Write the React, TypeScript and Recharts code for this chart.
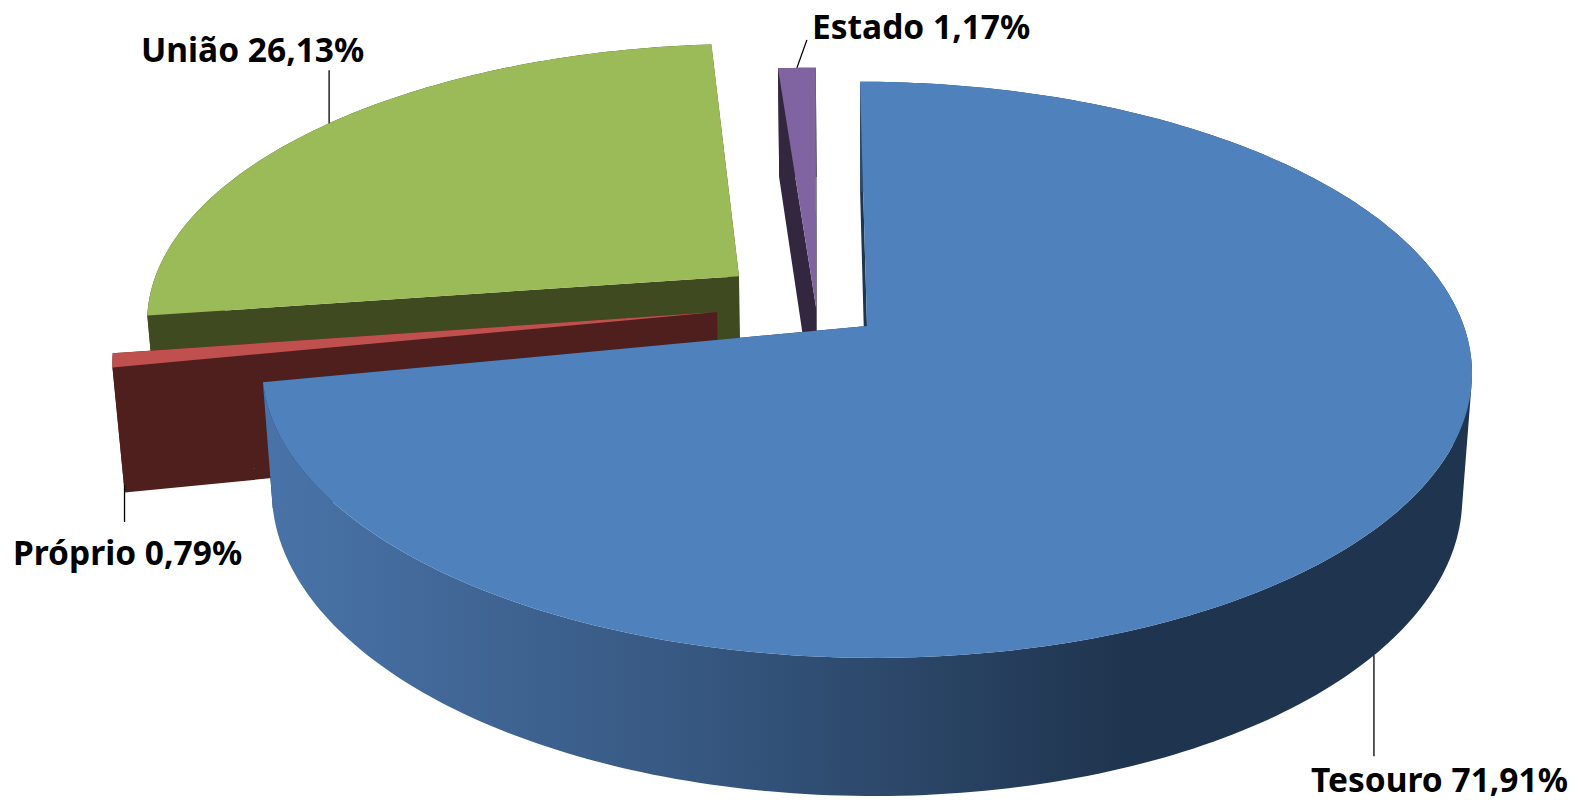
import React from "react";
import { PieChart, Pie } from "recharts";

const sliceNames = ["Estado", "União", "Próprio", "Tesouro"];
const sliceValues = [1.17, 26.13, 0.79, 71.91];
const sliceLabels = ["Estado 1,17%", "União 26,13%", "Próprio 0,79%", "Tesouro 71,91%"];

const chartData = sliceNames.map((name, i) => ({ name, value: sliceValues[i], label: sliceLabels[i] }));

// Perspective of the 3D pie (fractions of the radius)
const TILT = 0.4706;
const DEPTH = 0.2085;
const PERSP = 0.152;
const DEPTH_PERSP = 0.016;
const ROLL = 0.006;

type Look = {
  top: string; wall: string; ou: number; ov: number;
  level: number; lineDx: number; lineDy: number; textX: number; textY: number; anchor: string;
};
const looks: Record<string, Look> = {
  Tesouro: { top: "#4F81BD", wall: "url(#tesouroWall)", ou: 0, ov: 0, level: 1, lineDx: 0, lineDy: 101, textX: 1311, textY: 792, anchor: "start" },
  Próprio: { top: "#C0504D", wall: "#4F1F1E", ou: -0.2526, ov: -0.0465, level: 1, lineDx: 0, lineDy: 37, textX: 13, textY: 565, anchor: "start" },
  União: { top: "#9BBB59", wall: "#3F4A20", ou: -0.2199, ov: -0.1789, level: 0, lineDx: 0, lineDy: -53, textX: 141, textY: 62, anchor: "start" },
  Estado: { top: "#8064A2", wall: "#33273F", ou: -0.086, ov: -0.065, level: 0, lineDx: 10, lineDy: -28, textX: 812, textY: 39, anchor: "start" },
};

function project(cx: number, cy: number, R: number, u: number, v: number, h: number): [number, number] {
  const w = 1 - PERSP * v + DEPTH_PERSP * h;
  const dx = (R * u) / w;
  return [cx + dx, cy + (R * (TILT * v + DEPTH * h)) / w + ROLL * dx];
}

function rimAt(look: Look, mathDeg: number): [number, number] {
  const a = (mathDeg * Math.PI) / 180;
  return [look.ou + Math.cos(a), look.ov - Math.sin(a)];
}

function quad(pts: [number, number][]): string {
  let area = 0;
  pts.forEach((p, i) => {
    const q = pts[(i + 1) % pts.length];
    area += p[0] * q[1] - q[0] * p[1];
  });
  const ordered = area < 0 ? [...pts].reverse() : pts;
  return "M" + ordered.map((p) => `${p[0].toFixed(2)},${p[1].toFixed(2)}`).join("L") + "Z";
}

function SliceShape(props: any) {
  const { cx, cy, outerRadius: R, startAngle, endAngle, name } = props;
  const look = looks[name];
  const P = (u: number, v: number, h: number) => project(cx, cy, R, u, v, h);
  const steps = Math.max(4, Math.ceil(Math.abs(endAngle - startAngle)));
  const rim: [number, number][] = [];
  for (let i = 0; i <= steps; i++) rim.push(rimAt(look, startAngle + ((endAngle - startAngle) * i) / steps));

  const apexTop = P(look.ou, look.ov, 0);
  const apexBot = P(look.ou, look.ov, 1);
  const topPts = [apexTop, ...rim.map(([u, v]) => P(u, v, 0))];
  const topPath = "M" + topPts.map((p) => `${p[0].toFixed(2)},${p[1].toFixed(2)}`).join("L") + "Z";

  let wallPath = "";
  for (let i = 0; i < steps; i++) {
    const [a, b] = [rim[i], rim[i + 1]];
    wallPath += quad([P(a[0], a[1], 0), P(b[0], b[1], 0), P(b[0], b[1], 1), P(a[0], a[1], 1)]);
  }
  const first = rim[0];
  const last = rim[steps];
  const radial =
    quad([apexTop, P(first[0], first[1], 0), P(first[0], first[1], 1), apexBot]) +
    quad([apexTop, P(last[0], last[1], 0), P(last[0], last[1], 1), apexBot]);
  const isGradient = look.wall.startsWith("url");

  return (
    <g>
      {isGradient && (
        <defs>
          <linearGradient id="tesouroWall" gradientUnits="userSpaceOnUse" x1={270} y1={0} x2={1130} y2={0}>
            <stop offset="0" stopColor="#4973A8" />
            <stop offset="0.5" stopColor="#365780" />
            <stop offset="1" stopColor="#1F344E" />
          </linearGradient>
        </defs>
      )}
      <path d={radial} fill={isGradient ? "#1F344E" : look.wall} />
      <path d={wallPath} fill={look.wall} />
      <path d={topPath} fill={look.top} />
    </g>
  );
}

function SliceLabel(props: any) {
  const { cx, cy, outerRadius: R, midAngle, name, label, payload } = props;
  const look = looks[name ?? payload?.name];
  const [u, v] = rimAt(look, midAngle);
  const [x, y] = project(cx, cy, R, u, v, look.level);
  return (
    <g>
      <line x1={x} y1={y} x2={x + look.lineDx} y2={y + look.lineDy} stroke="#000" strokeWidth={1.3} />
      <text
        x={look.textX}
        y={look.textY}
        textAnchor={look.anchor as any}
        fontFamily="'Noto Sans', sans-serif"
        fontWeight={700}
        fontSize={33.5}
        fill="#000"
      >
        {label ?? payload?.label}
      </text>
    </g>
  );
}

export default function App() {
  return (
    <div style={{ position: "absolute", left: 0, top: 0, width: 1576, height: 802, background: "#fff" }}>
      <PieChart width={1576} height={802} margin={{ top: 0, right: 0, bottom: 0, left: 0 }}>
        <Pie
          data={chartData}
          dataKey="value"
          nameKey="name"
          cx={867}
          cy={326}
          innerRadius={0}
          outerRadius={598}
          startAngle={90.77}
          endAngle={450.77}
          stroke="none"
          isAnimationActive={false}
          rootTabIndex={-1}
          shape={SliceShape}
          inactiveShape={SliceShape}
          label={SliceLabel}
          labelLine={false}
        />
      </PieChart>
    </div>
  );
}
